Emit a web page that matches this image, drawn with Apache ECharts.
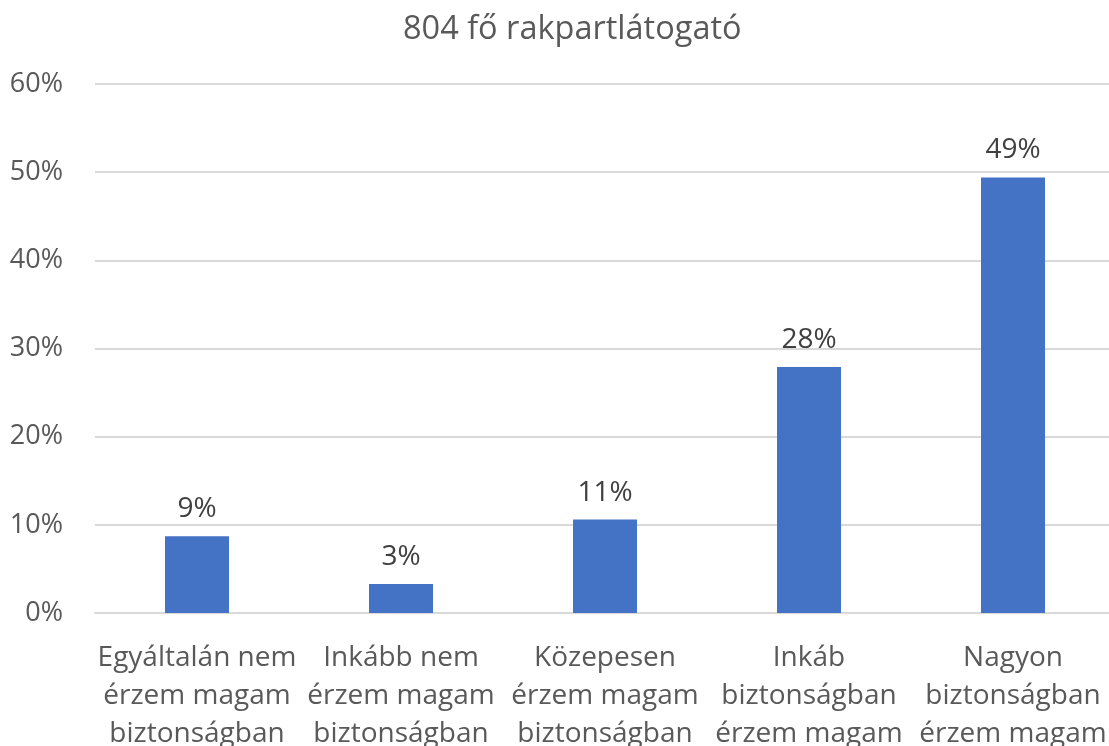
<!DOCTYPE html>
<html>
<head>
<meta charset="utf-8">
<script src="https://cdn.jsdelivr.net/npm/echarts@6/dist/echarts.min.js"></script>
<style>
  html, body { margin: 0; padding: 0; background: #fff; }
  #chart { width: 1109px; height: 746px; }
</style>
</head>
<body>
<div id="chart"></div>
<script>
const titleText = '804 fő rakpartlátogató'
const categories = [
  'Egyáltalán nem\nérzem magam\nbiztonságban',
  'Inkább nem\nérzem magam\nbiztonságban',
  'Közepesen\nérzem magam\nbiztonságban',
  'Inkáb\nbiztonságban\nérzem magam',
  'Nagyon\nbiztonságban\nérzem magam'
]
const values = [8.7, 3.3, 10.6, 27.9, 49.4]

const font = '"Open Sans", "Noto Sans", sans-serif'

const chart = echarts.init(document.getElementById('chart'))
chart.setOption({
  animation: false,
  title: {
    text: titleText,
    left: 398,
    top: 8,
    textStyle: { fontFamily: font, fontSize: 32.5, fontWeight: 'normal', color: '#595959' }
  },
  // labels run off the bottom edge like in the original, so don't let v6 shrink the grid
  grid: { left: 95, right: -6, top: 84, bottom: 133, containLabel: false, outerBoundsMode: 'none' },
  xAxis: {
    type: 'category',
    data: categories,
    axisLine: { lineStyle: { color: '#d9d9d9', width: 2 } },
    axisTick: { show: false },
    axisLabel: {
      interval: 0,
      margin: 26,
      fontFamily: font,
      fontSize: 28,
      lineHeight: 38,
      color: '#595959'
    }
  },
  yAxis: {
    type: 'value',
    min: 0,
    max: 60,
    interval: 10,
    axisLine: { show: false },
    axisTick: { show: false },
    splitLine: { lineStyle: { color: '#d9d9d9', width: 2 } },
    axisLabel: {
      margin: 32,
      fontFamily: font,
      fontSize: 27,
      color: '#595959',
      formatter: '{value}%'
    }
  },
  series: [{
    type: 'bar',
    data: values,
    barWidth: 64,
    itemStyle: { color: '#4472C4' },
    label: {
      show: true,
      position: 'top',
      distance: 13,
      fontFamily: font,
      fontSize: 28,
      color: '#404040',
      formatter: p => Math.round(p.value) + '%'
    }
  }]
})
</script>
</body>
</html>
